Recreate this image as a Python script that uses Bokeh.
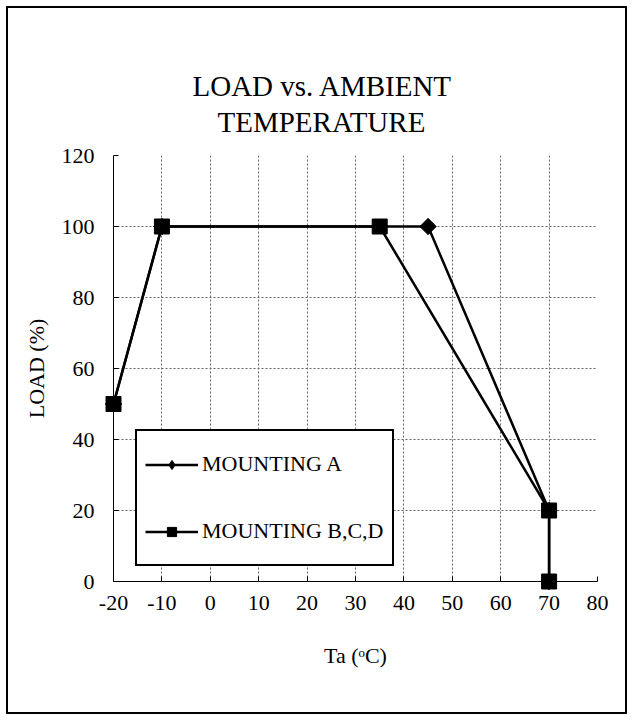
import numpy as np
from bokeh.plotting import figure
from bokeh.models import Legend, LegendItem, FixedTicker, Range1d, Title
from bokeh.embed import file_html
from bokeh.resources import INLINE

# ---- data ----
temp_a = [-20, -10, 45, 70, 70]
load_a = [50, 100, 100, 20, 0]
temp_bcd = [-20, -10, 35, 70, 70]
load_bcd = [50, 100, 100, 20, 0]
x_ticks = [-20, -10, 0, 10, 20, 30, 40, 50, 60, 70, 80]
y_ticks = [0, 20, 40, 60, 80, 100, 120]
title_lines = ["LOAD vs. AMBIENT", "TEMPERATURE"]
series_names = ["MOUNTING A", "MOUNTING B,C,D"]
x_title = "Ta (\u1d52C)"
y_title = "LOAD (%)"

FONT = "Liberation Serif"

p = figure(width=617, height=704,
           x_range=Range1d(x_ticks[0], x_ticks[-1]),
           y_range=Range1d(y_ticks[0], y_ticks[-1]),
           output_backend="svg", toolbar_location=None,
           min_border_left=105, min_border_right=28,
           min_border_top=147, min_border_bottom=131)
p.styles = {"margin": "8px", "outline": "2px solid black"}
p.outline_line_color = None
p.background_fill_color = "white"
p.border_fill_color = "white"

# title: two lines, centred over the whole chart box
# (above panels stack outward from the frame; p.title is outermost)
spacer = Title(text=" ", text_font_size="2px", standoff=14)
p.add_layout(spacer, "above")
t2 = Title(text=title_lines[1], align="left", offset=104, vertical_align="bottom",
           standoff=0, text_font=FONT, text_font_size="29px",
           text_font_style="normal", text_color="black")
p.add_layout(t2, "above")
p.title.text = title_lines[0]
p.title.align = "left"
p.title.offset = 79
p.title.vertical_align = "bottom"
p.title.standoff = 4
p.title.text_font = FONT
p.title.text_font_size = "29px"
p.title.text_font_style = "normal"
p.title.text_color = "black"

# axes
for ax in (p.xaxis[0], p.yaxis[0]):
    ax.major_label_text_font = FONT
    ax.major_label_text_font_size = "22px"
    ax.major_label_text_color = "black"
    ax.axis_line_color = "black"
    ax.axis_line_width = 1
    ax.major_tick_in = 5
    ax.major_tick_out = 0
    ax.major_tick_line_color = "black"
    ax.minor_tick_line_color = None
    ax.axis_label_text_font = FONT
    ax.axis_label_text_font_size = "22px"
    ax.axis_label_text_font_style = "normal"
    ax.axis_label_text_color = "black"
p.xaxis.ticker = FixedTicker(ticks=x_ticks)
p.yaxis.ticker = FixedTicker(ticks=y_ticks)
p.xaxis.major_label_overrides = {t: str(t) for t in x_ticks}
p.xaxis.major_label_standoff = 14
p.yaxis.major_label_standoff = 19
p.yaxis.axis_label = y_title
p.yaxis.axis_label_standoff = 10
p.xaxis.axis_label = x_title
p.xaxis.axis_label_standoff = 30

# grid
p.xgrid.ticker = FixedTicker(ticks=x_ticks)
p.ygrid.ticker = FixedTicker(ticks=y_ticks)
for g in (p.xgrid[0], p.ygrid[0]):
    g.grid_line_color = "#666666"
    g.grid_line_dash = "2 2"
    g.grid_line_width = 1

# series
line_a = p.line(temp_a, load_a, line_color="black", line_width=2.5, level="overlay")
line_b = p.line(temp_bcd, load_bcd, line_color="black", line_width=2.5, level="overlay")
p.scatter(temp_a, load_a, marker="square", angle=np.pi / 4, size=11.5,
          fill_color="black", line_color="black", level="overlay")
sq_b = p.scatter(temp_bcd, load_bcd, marker="square", size=15,
                 fill_color="black", line_color="black", level="overlay")
# legend key for the diamond marker (not drawn in the plot area)
diamond_key = p.scatter(x=[np.nan], y=[np.nan], marker="diamond",
                        fill_color="black", line_color="black")

legend = Legend(items=[LegendItem(label=series_names[0], renderers=[line_a, diamond_key]),
                       LegendItem(label=series_names[1], renderers=[line_b, sq_b])],
                location=(22, 15))
legend.border_line_color = "black"
legend.border_line_alpha = 1
legend.border_line_width = 2
legend.background_fill_color = "white"
legend.background_fill_alpha = 1
legend.padding = 8
legend.margin = 0
legend.spacing = 17
legend.glyph_width = 53
legend.glyph_height = 23
legend.label_height = 50
legend.label_standoff = 4
legend.label_text_font = FONT
legend.label_text_font_size = "22px"
legend.label_text_color = "black"
p.add_layout(legend)

open("out.html", "w").write(file_html(p, INLINE))
